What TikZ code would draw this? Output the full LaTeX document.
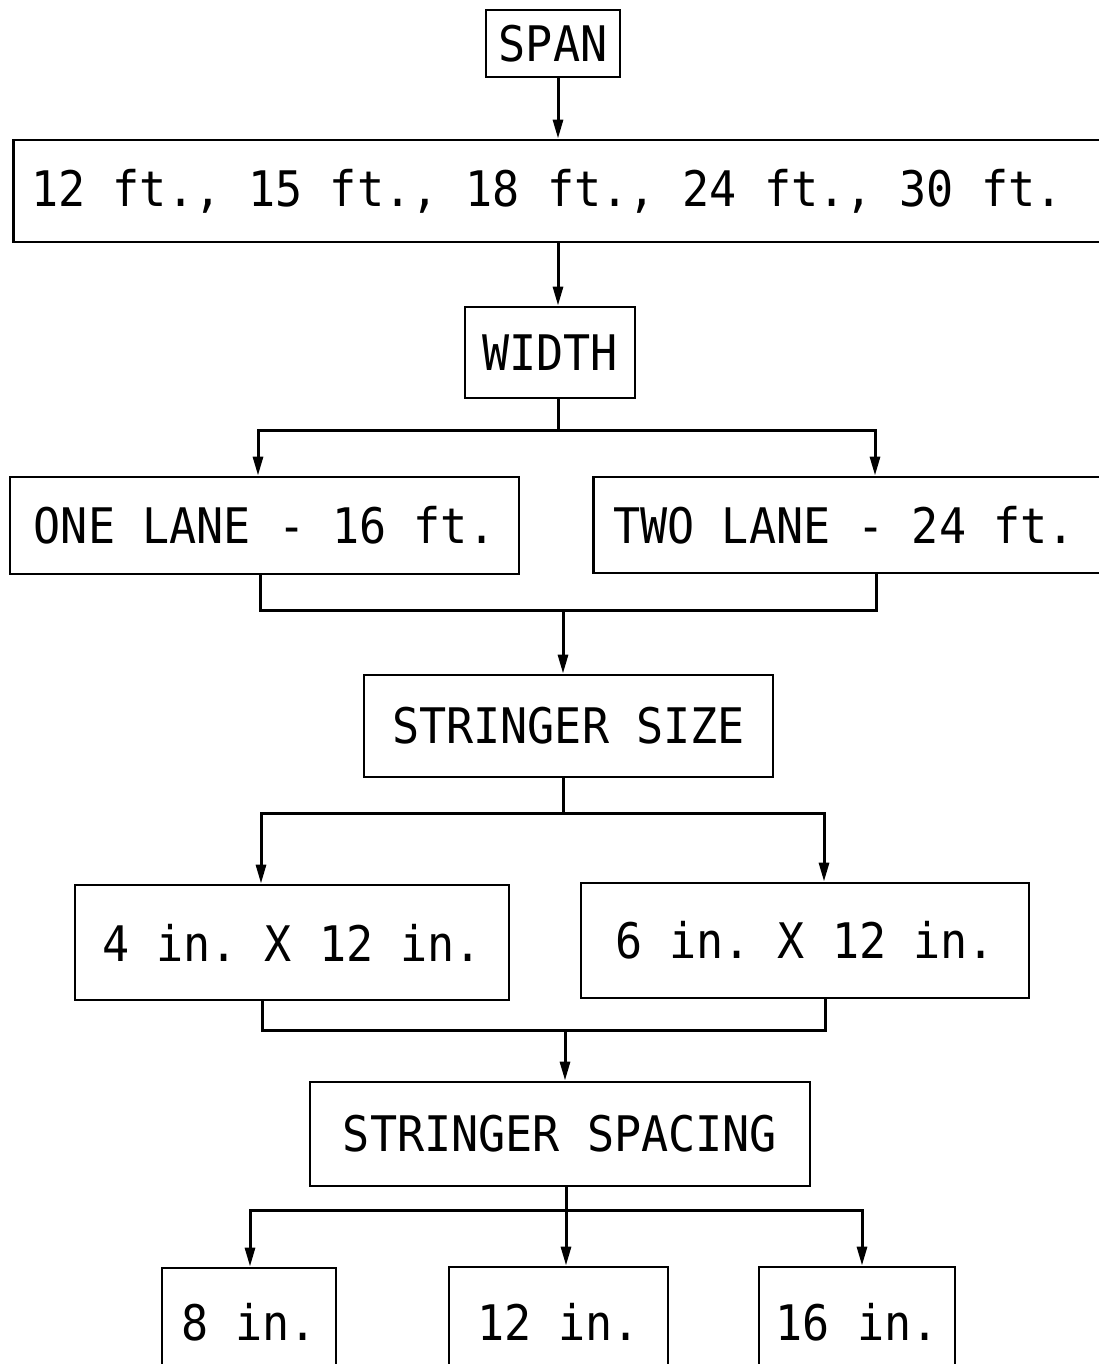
\documentclass[tikz,border=0pt]{standalone}
\usepackage{fontspec}
\newfontfamily\plotfont[FakeStretch=0.92]{DejaVu Sans Mono}
\usetikzlibrary{arrows.meta,calc}
\begin{document}
\frenchspacing
\begin{tikzpicture}[x=1pt,y=-1pt,
  box/.style={draw,line width=2.8pt,inner sep=0pt,font=\plotfont\fontsize{49}{52}\selectfont\frenchspacing},
  line/.style={line width=3pt},
  arr/.style={line width=3pt,-{Triangle[length=19pt,width=10pt]}}]
\fill[white] (0,0) rectangle (1098,1364);
\useasboundingbox (0,0) rectangle (1098,1364);
% nodes
\node[box,minimum width=134pt,minimum height=67pt] (span) at (553,43.5) {SPAN};
\node[box,anchor=west,minimum height=102pt,inner xsep=18pt] (ranges) at (12,191) {\makebox[1062pt][l]{12 ft., 15 ft., 18 ft., 24 ft., 30 ft.}};
\node[box,minimum width=170pt,minimum height=91pt] (width) at (550,352.5) {WIDTH};
\node[box,minimum width=509pt,minimum height=97pt] (one) at (264.5,525.5) {ONE LANE - 16 ft.};
\node[box,anchor=west,minimum height=96pt,inner xsep=20pt] (two) at (592,525) {\makebox[478pt][l]{TWO LANE - 24 ft.}};
\node[box,minimum width=409pt,minimum height=102pt] (size) at (568.5,726) {STRINGER SIZE};
\node[box,minimum width=434pt,minimum height=115pt] (four) at (292,942.5) {4 in. X 12 in.};
\node[box,minimum width=448pt,minimum height=115pt] (six) at (805,940.5) {6 in. X 12 in.};
\node[box,minimum width=500pt,minimum height=104pt] (spacing) at (560,1134) {STRINGER SPACING};
\node[box,minimum width=174pt,minimum height=108pt] (eight) at (249,1322) {8 in.};
\node[box,minimum width=219pt,minimum height=110pt] (twelve) at (558.5,1322) {12 in.};
\node[box,minimum width=196pt,minimum height=110pt] (sixteen) at (857,1322) {16 in.};
% junctions
\coordinate (j1) at (558,430);
\coordinate (j2) at (563,610);
\coordinate (j3) at (563,813);
\coordinate (j4) at (565,1030);
\coordinate (j5) at (566,1210);
% connectors
\draw[arr] ([xshift=5pt]span.south) -- ([xshift=5pt]span.south |- ranges.north);
\draw[arr] ([xshift=8pt]width.north |- ranges.south) -- ([xshift=8pt]width.north);
\draw[line] (width.south -| j1) -- (j1);
\draw[arr] (j1) -| ([xshift=-6.5pt]one.north);
\draw[arr] (j1) -| ([xshift=283pt]two.north west);
\draw[line] ([xshift=-4.5pt]one.south) |- (j2) -| ([xshift=284pt]two.south west);
\draw[arr] (j2) -- (j2 |- size.north);
\draw[line] (size.south -| j3) -- (j3);
\draw[arr] (j3) -| ([xshift=-31pt]four.north);
\draw[arr] (j3) -| ([xshift=19pt]six.north);
\draw[line] ([xshift=-30pt]four.south) |- (j4) -| ([xshift=20pt]six.south);
\draw[arr] (j4) -- (j4 |- spacing.north);
\draw[line] (spacing.south -| j5) -- (j5);
\draw[arr] (j5) -| ([xshift=1pt]eight.north);
\draw[arr] (j5) -- (j5 |- twelve.north);
\draw[arr] (j5) -| ([xshift=5pt]sixteen.north);
\end{tikzpicture}
\end{document}
